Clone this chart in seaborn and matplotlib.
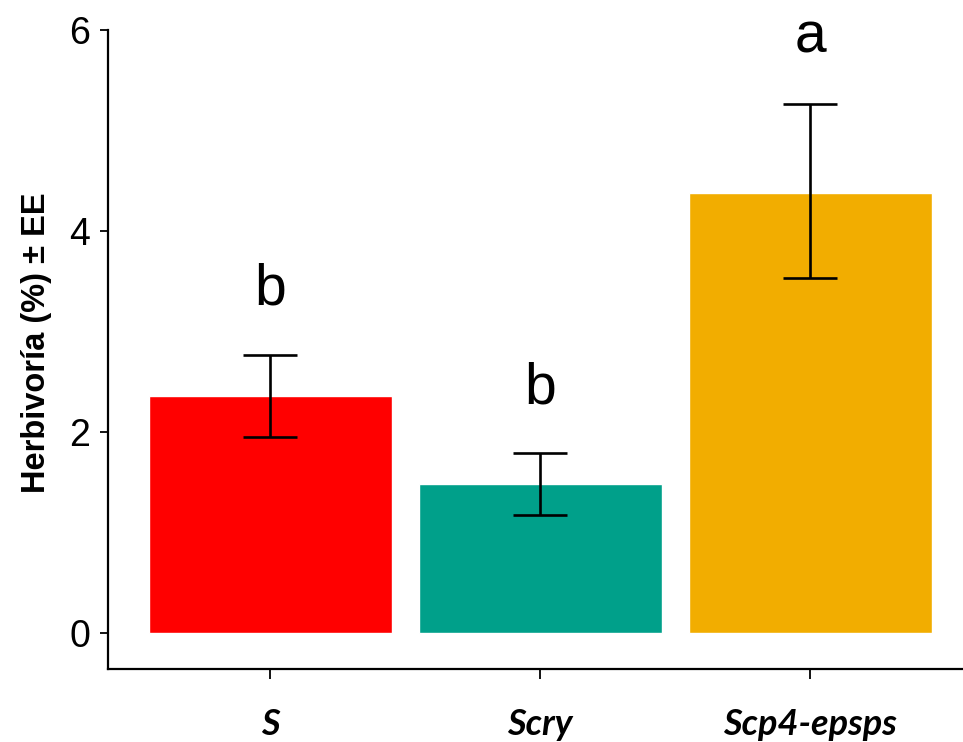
import matplotlib
matplotlib.use("Agg")
import matplotlib.pyplot as plt
import seaborn as sns
import numpy as np

categories = ["S", "Scry", "Scp4-epsps"]
means = [2.36, 1.48, 4.38]
err_upper = [2.77, 1.79, 5.26]
err_lower = [1.95, 1.17, 3.53]
letters = ["b", "b", "a"]
letter_y = [3.27, 2.28, 5.78]
colors = ["#FF0000", "#00A08A", "#F2AD00"]
yticks = [0, 2, 4, 6]

sns.set_theme(style="ticks")
plt.rcParams['font.family'] = ['Liberation Sans', 'DejaVu Sans']

fig = plt.figure(figsize=(9.63, 7.42), dpi=100)
W, H = 963, 742
ax = fig.add_axes([108 / W, 1 - 669 / H, (972 - 108) / W, (669 - 30) / H])

sns.barplot(x=categories, y=means, hue=categories, palette=colors, width=0.9,
            errorbar=None, legend=False, ax=ax, saturation=1)

xpos = np.arange(len(categories))
yerr = [np.array(means) - np.array(err_lower), np.array(err_upper) - np.array(means)]
ax.errorbar(xpos, means, yerr=yerr, fmt="none", ecolor="black",
            elinewidth=1.9, capsize=19.5, capthick=1.9, zorder=5)

for x, t, y in zip(xpos, letters, letter_y):
    ax.text(x, y, t, ha="center", va="baseline", fontsize=41, color="black",
            clip_on=False)

ax.set_xlim(-0.6, 2.6)
ax.set_ylim(-0.36, 6.0)
ax.set_yticks(yticks)
ax.set_yticklabels([str(v) for v in yticks], fontsize=27)
ax.set_xticks(xpos)
ax.set_xticklabels(categories, fontsize=26, fontweight="bold", style="italic",
                   family=["Lato", "DejaVu Sans"])

ax.spines["top"].set_visible(False)
ax.spines["right"].set_visible(False)
ax.spines["left"].set_bounds(-0.36, 6.0)
for s in ["left", "bottom"]:
    ax.spines[s].set_linewidth(1.6)
    ax.spines[s].set_color("black")

ax.tick_params(axis="y", length=6, width=1.3, pad=7, colors="black")
ax.tick_params(axis="x", length=7, width=1.3, pad=21, colors="black")

ax.set_ylabel("Herbivoría (%) ± EE", fontsize=23.5, fontweight="bold",
              color="black")
ax.yaxis.label.set_va("center")
ax.yaxis.set_label_coords(-0.083, 0.51)
ax.set_xlabel("")
ax.grid(False)

fig.savefig("out.png", dpi=100)
